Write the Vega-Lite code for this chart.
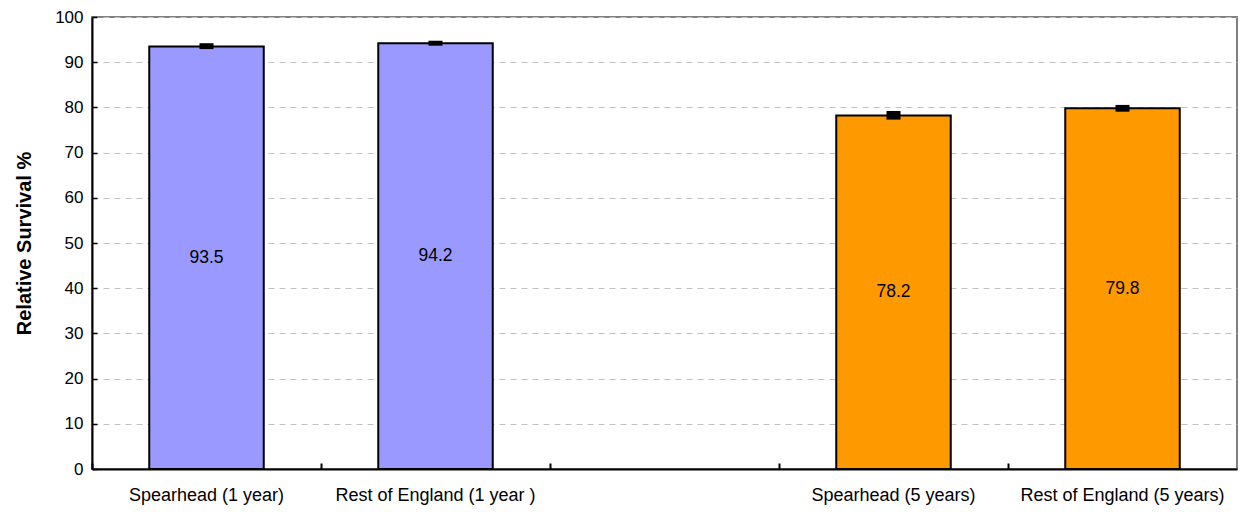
{
  "$schema": "https://vega.github.io/schema/vega-lite/v6.json",
  "width": 1145,
  "height": 452,
  "autosize": {"type": "none"},
  "padding": {"left": 92, "top": 17, "right": 11, "bottom": 43},
  "background": "white",
  "config": {
    "font": "Liberation Sans",
    "view": {"stroke": "#808080", "strokeWidth": 2}
  },
  "data": {
    "values": [
      {"category": "Spearhead (1 year)", "period": "1 year", "value": 93.5, "lower": 92.9, "upper": 94.2},
      {"category": "Rest of England (1 year )", "period": "1 year", "value": 94.2, "lower": 93.65, "upper": 94.75},
      {"category": "Spearhead (5 years)", "period": "5 years", "value": 78.2, "lower": 77.3, "upper": 79.2},
      {"category": "Rest of England (5 years)", "period": "5 years", "value": 79.8, "lower": 79.05, "upper": 80.55}
    ]
  },
  "encoding": {
    "x": {
      "field": "category",
      "type": "nominal",
      "sort": null,
      "scale": {
        "domain": ["Spearhead (1 year)", "Rest of England (1 year )", " ", "Spearhead (5 years)", "Rest of England (5 years)"],
        "paddingInner": 0,
        "paddingOuter": 0
      },
      "axis": {
        "title": null,
        "labelAngle": 0,
        "bandPosition": 0,
        "labelFontSize": 18,
        "labelLimit": 0,
        "labelColor": "black",
        "labelPadding": 23,
        "domainColor": "black",
        "domainWidth": 2,
        "tickColor": "black",
        "tickWidth": 2,
        "tickSize": -6,
        "grid": false
      }
    }
  },
  "layer": [
    {
      "mark": {"type": "bar", "width": {"band": 0.5}, "stroke": "black", "strokeWidth": 2},
      "encoding": {
        "y": {
          "field": "value",
          "type": "quantitative",
          "scale": {"domain": [0, 100], "nice": false},
          "axis": {
            "title": "Relative Survival %",
            "titleFontSize": 20,
            "titleFontWeight": "bold",
            "titleColor": "black",
            "titlePadding": 20,
            "values": [0, 5, 10, 15, 20, 25, 30, 35, 40, 45, 50, 55, 60, 65, 70, 75, 80, 85, 90, 95, 100],
            "labelExpr": "datum.value % 10 === 0 ? datum.label : ''",
            "labelFontSize": 17,
            "labelColor": "black",
            "labelPadding": 14,
            "domainColor": "black",
            "domainWidth": 2,
            "tickColor": "black",
            "tickWidth": 1.5,
            "tickSize": -5,
            "grid": true,
            "gridColor": "#c0c0c0",
            "gridDash": [6, 5],
            "gridWidth": 1,
            "gridOpacity": {"condition": {"test": "datum.value % 10 !== 0 || datum.value === 0", "value": 0}, "value": 1}
          }
        },
        "color": {
          "field": "period",
          "type": "nominal",
          "scale": {"domain": ["1 year", "5 years"], "range": ["#9999ff", "#ff9900"]},
          "legend": null
        }
      }
    },
    {
      "mark": {"type": "bar", "width": 14, "color": "black"},
      "encoding": {
        "y": {"field": "lower", "type": "quantitative"},
        "y2": {"field": "upper"}
      }
    },
    {
      "transform": [{"calculate": "datum.value / 2", "as": "mid"}],
      "mark": {"type": "text", "fontSize": 17.5, "color": "black", "baseline": "middle"},
      "encoding": {
        "y": {"field": "mid", "type": "quantitative"},
        "text": {"field": "value", "type": "quantitative", "format": ".1f"}
      }
    }
  ]
}
